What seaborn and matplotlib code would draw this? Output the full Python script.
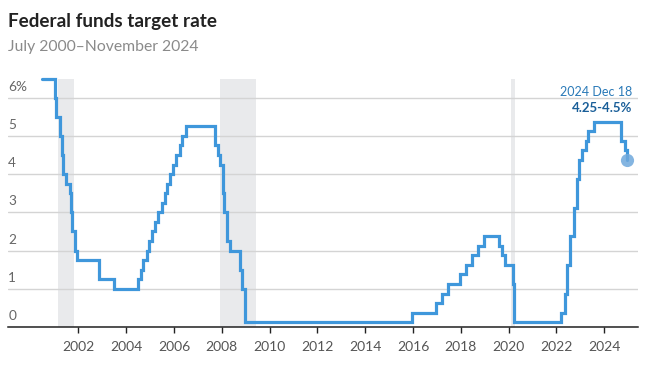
import pandas as pd
import numpy as np
import matplotlib.pyplot as plt
import matplotlib.dates as mdates
import seaborn as sns

# --- Data: fed funds target (midpoint of range after Dec 2008) ---
change_dates = [
    "2000-07-01", "2001-01-03", "2001-01-31", "2001-03-20", "2001-04-18", "2001-05-15",
    "2001-06-27", "2001-08-21", "2001-09-17", "2001-10-02", "2001-11-06", "2001-12-11",
    "2002-11-06", "2003-06-25", "2004-06-30", "2004-08-10", "2004-09-21", "2004-11-10",
    "2004-12-14", "2005-02-02", "2005-03-22", "2005-05-03", "2005-06-30", "2005-08-09",
    "2005-09-20", "2005-11-01", "2005-12-13", "2006-01-31", "2006-03-28", "2006-05-10",
    "2006-06-29", "2007-09-18", "2007-10-31", "2007-12-11", "2008-01-22", "2008-01-30",
    "2008-03-18", "2008-04-30", "2008-10-08", "2008-10-29", "2008-12-16", "2015-12-17",
    "2016-12-15", "2017-03-16", "2017-06-15", "2017-12-14", "2018-03-22", "2018-06-14",
    "2018-09-27", "2018-12-20", "2019-08-01", "2019-09-19", "2019-10-31", "2020-03-04",
    "2020-03-16", "2022-03-17", "2022-05-05", "2022-06-16", "2022-07-28", "2022-09-22",
    "2022-11-03", "2022-12-15", "2023-02-02", "2023-03-23", "2023-05-04", "2023-07-27",
    "2024-09-19", "2024-11-08", "2024-12-18",
]
target_rate = [
    6.5, 6.0, 5.5, 5.0, 4.5, 4.0,
    3.75, 3.5, 3.0, 2.5, 2.0, 1.75,
    1.25, 1.0, 1.25, 1.5, 1.75, 2.0,
    2.25, 2.5, 2.75, 3.0, 3.25, 3.5,
    3.75, 4.0, 4.25, 4.5, 4.75, 5.0,
    5.25, 4.75, 4.5, 4.25, 3.5, 3.0,
    2.25, 2.0, 1.5, 1.0, 0.125, 0.375,
    0.625, 0.875, 1.125, 1.375, 1.625, 1.875,
    2.125, 2.375, 2.125, 1.875, 1.625, 1.125,
    0.125, 0.375, 0.875, 1.625, 2.375, 3.125,
    3.875, 4.375, 4.625, 4.875, 5.125, 5.375,
    4.875, 4.625, 4.375,
]

recession_start = ["2001-03-01", "2007-12-01", "2020-02-01"]
recession_end = ["2001-11-01", "2009-06-01", "2020-04-01"]

ytick_values = [0, 1, 2, 3, 4, 5, 6]
ytick_labels = ["0", "1", "2", "3", "4", "5", "6%"]

last_label = "2024 Dec 18"
last_range = "4.25-4.5%"

df = pd.DataFrame({"date": pd.to_datetime(change_dates), "rate": target_rate})

# --- Style ---
sns.set_style("white")
plt.rcParams["font.family"] = ["Lato", "DejaVu Sans"]

line_color = "#3f97db"
fig = plt.figure(figsize=(6.56, 3.68), dpi=100)
ax = fig.add_axes([8.3 / 656, 41 / 368, 629.4 / 656, 7 * 38.22 / 368])

# recession shading
for s, e in zip(recession_start, recession_end):
    ax.fill_between(pd.to_datetime([s, e]), 0, 6.5, color="#e9eaec", lw=0, zorder=0)

sns.lineplot(data=df, x="date", y="rate", drawstyle="steps-post", color=line_color,
             linewidth=2.3, ax=ax, zorder=3, solid_joinstyle="miter")

last = df.iloc[-1]
ax.scatter([last["date"]], [last["rate"]], s=90, color="#6fa8dc", alpha=0.85,
           zorder=4, linewidths=0)

ax.set_xlim(pd.Timestamp("1999-01-26"), pd.Timestamp("2025-05-26"))
ax.set_ylim(0, 7)

ax.set_xticks([pd.Timestamp(f"{y}-01-01") for y in range(2002, 2025, 2)])
ax.xaxis.set_major_formatter(mdates.DateFormatter("%Y"))
ax.tick_params(axis="x", length=4, width=1, color="#222222", pad=6,
               labelsize=10, labelcolor="#555555", direction="out", bottom=True)

ax.set_yticks(ytick_values)
ax.set_yticklabels([])
ax.tick_params(axis="y", length=0)
ax.grid(axis="y", color="#d4d4d4", linewidth=1)
ax.set_axisbelow(True)
for v, lab in zip(ytick_values, ytick_labels):
    ax.annotate(lab, xy=(0, v), xycoords=("axes fraction", "data"),
                xytext=(0, 5), textcoords="offset pixels",
                ha="left", va="bottom", fontsize=9.8, color="#666666")

for side in ["top", "right", "left"]:
    ax.spines[side].set_visible(False)
ax.spines["bottom"].set_color("#222222")
ax.spines["bottom"].set_linewidth(1.1)
ax.set_xlabel("")
ax.set_ylabel("")
if ax.get_legend():
    ax.get_legend().remove()

# end annotation
ax.annotate(last_label, xy=(last["date"], last["rate"]), xytext=(5, 64),
            textcoords="offset pixels", ha="right", va="baseline",
            fontsize=9, color="#2a7ab8")
ax.annotate(last_range, xy=(last["date"], last["rate"]), xytext=(5, 48),
            textcoords="offset pixels", ha="right", va="baseline",
            fontsize=9.5, fontweight="bold", color="#1a5f99")

fig.text(8.3 / 656, 1 - 27.3 / 368, "Federal funds target rate", fontsize=13.6,
         fontweight="bold", color="#222222", va="baseline", ha="left")
fig.text(8.3 / 656, 1 - 51 / 368, "July 2000\u2013November 2024", fontsize=11.3,
         color="#8a8a8a", va="baseline", ha="left")

fig.savefig("out.png", dpi=100)
